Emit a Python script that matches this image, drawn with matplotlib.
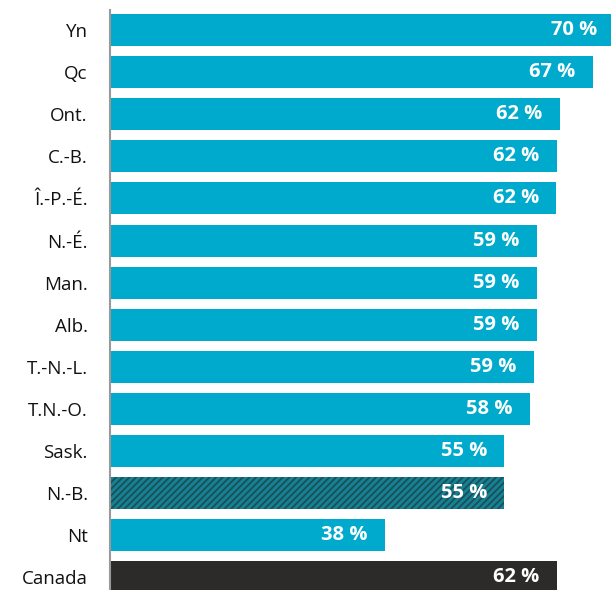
import matplotlib.pyplot as plt
import numpy as np

# provinces / territories, and Canada at the bottom
labels = ['Yn', 'Qc', 'Ont.', 'C.-B.', 'Î.-P.-É.', 'N.-É.', 'Man.', 'Alb.',
          'T.-N.-L.', 'T.N.-O.', 'Sask.', 'N.-B.', 'Nt', 'Canada']
# bar lengths (%), and the rounded labels printed on them
values = [70.0, 67.0, 62.4, 62.0, 61.9, 59.2, 59.2, 59.2, 58.8, 58.3, 54.7, 54.7, 38.1, 62.0]
value_labels = ['70 %', '67 %', '62 %', '62 %', '62 %', '59 %', '59 %', '59 %',
                '59 %', '58 %', '55 %', '55 %', '38 %', '62 %']

plt.rcParams['font.family'] = ['Open Sans', 'DejaVu Sans']
plt.rcParams['hatch.linewidth'] = 1.3
plt.rcParams['hatch.color'] = '#1e4d59'

fig = plt.figure(figsize=(6.11, 5.90), dpi=100)
ax = fig.add_axes([110 / 611, 0, 1 - 110 / 611, 1 - 10 / 590])

y = np.arange(len(labels))
colors = ['#00aacc'] * len(labels)
colors[11] = '#138393'
colors[13] = '#2d2b2a'

bars = ax.barh(y, values, height=0.76, color=colors, linewidth=0)
bars[11].set_hatch('/////')
bars[11].set_edgecolor('#1e4d59')

for b, t in zip(bars, value_labels):
    ax.annotate(t, xy=(b.get_width(), b.get_y() + b.get_height() / 2),
                xytext=(-12.5, 0), textcoords='offset points', annotation_clip=False,
                ha='right', va='center', color='white', fontsize=14.5, fontweight='bold')

ax.set_xlim(0, 69.5)
ax.set_ylim(13.30, -0.475)
ax.set_yticks(y)
ax.set_yticklabels(labels, fontsize=13.5, color='#111111')
ax.tick_params(axis='y', length=0, pad=16)
ax.set_xticks([])
for s in ['top', 'right', 'bottom']:
    ax.spines[s].set_visible(False)
ax.spines['left'].set_color('#999999')
ax.spines['left'].set_linewidth(1.5)

plt.savefig('out.png', dpi=100)
